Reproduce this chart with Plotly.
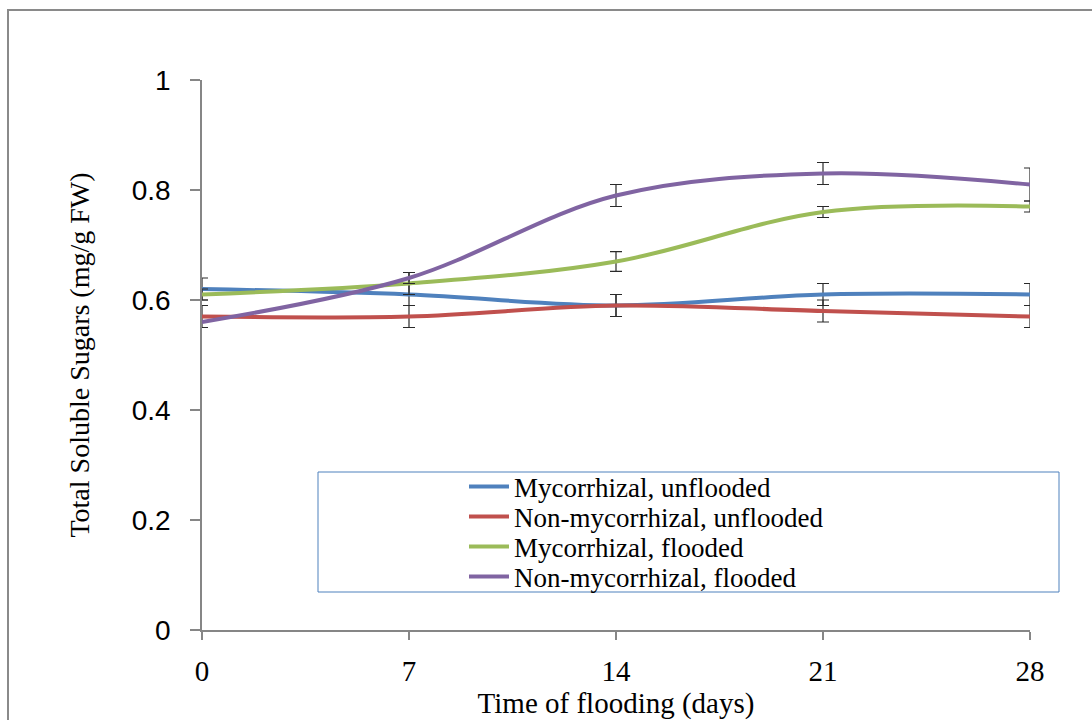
import plotly.graph_objects as go

days = [0, 7, 14, 21, 28]
series_names = ["Mycorrhizal, unflooded", "Non-mycorrhizal, unflooded",
                "Mycorrhizal, flooded", "Non-mycorrhizal, flooded"]
myc_unflooded = [0.62, 0.61, 0.59, 0.61, 0.61]
nonmyc_unflooded = [0.57, 0.57, 0.59, 0.58, 0.57]
myc_flooded = [0.61, 0.63, 0.67, 0.76, 0.77]
nonmyc_flooded = [0.56, 0.64, 0.79, 0.83, 0.81]
err_myc_unflooded = [0.02, 0.02, 0.02, 0.02, 0.02]
err_nonmyc_unflooded = [0.02, 0.02, 0.02, 0.02, 0.02]
err_myc_flooded = [0.01, 0.02, 0.018, 0.01, 0.01]
err_nonmyc_flooded = [0.0, 0.01, 0.02, 0.02, 0.03]
y_ticks = [0, 0.2, 0.4, 0.6, 0.8, 1.0]
y_tick_labels = ["0", "0.2", "0.4", "0.6", "0.8", "1"]

colors = ["#4F81BD", "#C0504D", "#9BBB59", "#8064A2"]
values = [myc_unflooded, nonmyc_unflooded, myc_flooded, nonmyc_flooded]
errors = [err_myc_unflooded, err_nonmyc_unflooded, err_myc_flooded, err_nonmyc_flooded]

W, H = 1092, 720
L, R, T, B = 202, 62, 80, 90
pw, ph = W - L - R, H - T - B

def px(xp):
    return (xp - L) / pw

def py(yp):
    return (H - B - yp) / ph

legend_ids = ["legend", "legend2", "legend3", "legend4"]
legend_rows = [487, 517, 547, 577]

fig = go.Figure()
for name, vals, err, c, lid in zip(series_names, values, errors, colors, legend_ids):
    fig.add_trace(go.Scatter(
        x=days, y=vals, name=name, mode="lines", legend=lid,
        line=dict(color=c, width=4, shape="spline", smoothing=1.0),
        error_y=dict(type="data", array=err, visible=True,
                     color="#2a2a2a", thickness=1.2, width=6),
    ))

legend_layout = {}
for lid, row in zip(legend_ids, legend_rows):
    legend_layout[lid] = dict(
        x=px(464), y=py(row), xanchor="left", yanchor="middle",
        bgcolor="rgba(0,0,0,0)", borderwidth=0,
        font=dict(family="Liberation Serif", size=27, color="black"),
        itemwidth=40,
    )

fig.update_layout(
    width=W, height=H,
    margin=dict(l=L, r=R, t=T, b=B, autoexpand=False),
    paper_bgcolor="white", plot_bgcolor="white",
    showlegend=True,
    **legend_layout,
    xaxis=dict(
        range=[0, 28], tickvals=days, ticktext=[str(d) for d in days],
        showgrid=False, zeroline=False, automargin=False,
        showline=True, linecolor="#868686", linewidth=1.5,
        ticks="outside", ticklen=8, tickcolor="#868686", tickwidth=1.5,
        tickfont=dict(family="Liberation Serif", size=29, color="black"),
        ticklabelstandoff=6,
        title=dict(text="Time of flooding (days)",
                   font=dict(family="Liberation Serif", size=29, color="black"),
                   standoff=8),
    ),
    yaxis=dict(
        range=[0, 1], tickvals=y_ticks, ticktext=y_tick_labels,
        showgrid=False, zeroline=False, automargin=False,
        showline=True, linecolor="#868686", linewidth=1.5,
        ticks="outside", ticklen=10, tickcolor="#868686", tickwidth=1.5,
        tickfont=dict(family="Liberation Sans", size=28, color="black"),
        ticklabelstandoff=14,
        title=dict(text="Total Soluble Sugars (mg/g FW)",
                   font=dict(family="Liberation Serif", size=28, color="black"),
                   standoff=34),
    ),
    shapes=[
        dict(type="rect", xref="paper", yref="paper",
             x0=px(8), x1=px(1100), y0=py(730), y1=py(10),
             line=dict(color="#8a8a8a", width=2), fillcolor="rgba(0,0,0,0)",
             layer="below"),
        dict(type="rect", xref="paper", yref="paper",
             x0=px(318), x1=px(1059), y0=py(592), y1=py(472),
             line=dict(color="#4F81BD", width=1), fillcolor="white",
             layer="below"),
    ],
)

fig.write_html("out.html")
